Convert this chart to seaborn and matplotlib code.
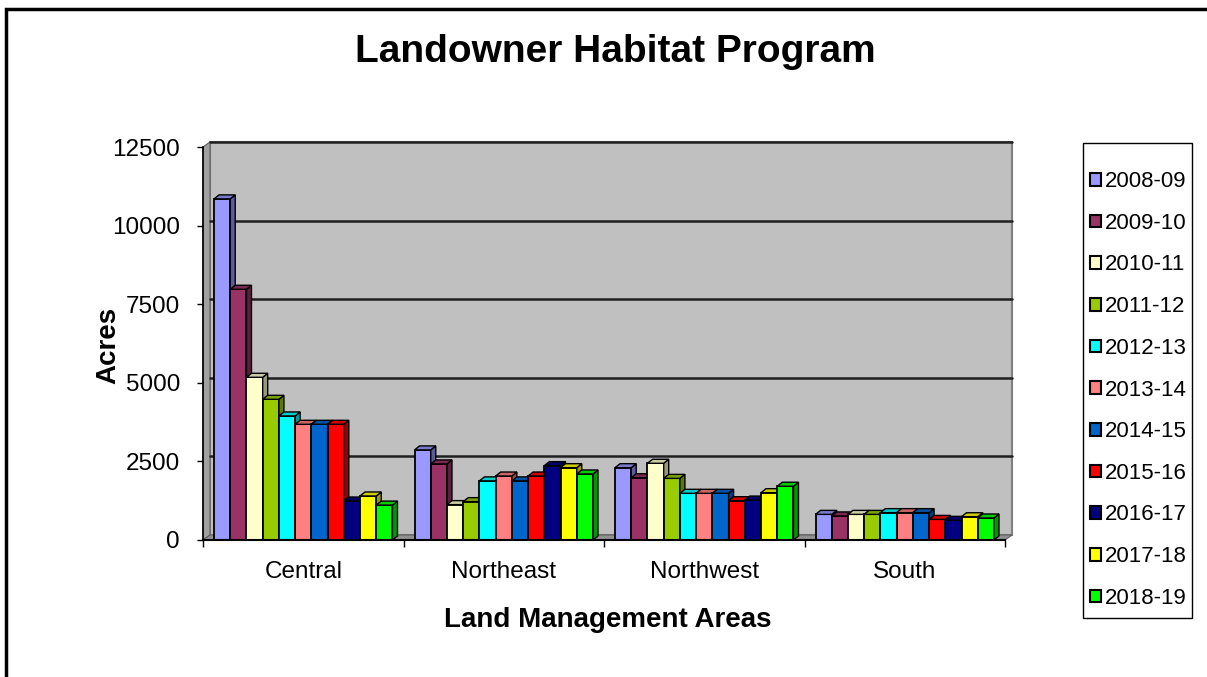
import matplotlib
matplotlib.use('Agg')
import numpy as np
import pandas as pd
import matplotlib.pyplot as plt
import matplotlib.colors as mcolors
from matplotlib.patches import Polygon, Rectangle, Patch
from matplotlib.transforms import ScaledTranslation, IdentityTransform
import seaborn as sns

# Данные
areas = ['Central', 'Northeast', 'Northwest', 'South']
years = ['2008-09', '2009-10', '2010-11', '2011-12', '2012-13', '2013-14',
         '2014-15', '2015-16', '2016-17', '2017-18', '2018-19']
central = [10850, 7975, 5175, 4475, 3945, 3680, 3680, 3680, 1240, 1400, 1110]
northeast = [2865, 2420, 1125, 1220, 1880, 2035, 1880, 2035, 2365, 2300, 2100]
northwest = [2300, 1980, 2440, 1960, 1485, 1485, 1485, 1250, 1270, 1505, 1710]
south = [815, 765, 815, 815, 870, 870, 870, 655, 625, 740, 700]
colors = ['#9999FF', '#993366', '#FFFFCC', '#99CC00', '#00FFFF', '#FF8080',
          '#0066CC', '#FF0000', '#000080', '#FFFF00', '#00FF00']
yticks = [0, 2500, 5000, 7500, 10000, 12500]

rows = []
for area, vals in zip(areas, [central, northeast, northwest, south]):
    for year, v in zip(years, vals):
        rows.append({'area': area, 'year': year, 'acres': v})
df = pd.DataFrame(rows)

sns.set_style('white')
plt.rcParams['font.family'] = ['Liberation Sans', 'DejaVu Sans']
plt.rcParams['text.color'] = 'black'
plt.rcParams['axes.labelcolor'] = 'black'
plt.rcParams['xtick.color'] = 'black'
plt.rcParams['ytick.color'] = 'black'

W, H = 1207, 677
fig = plt.figure(figsize=(W / 100, H / 100), dpi=100)
ax = fig.add_axes([203 / W, (H - 540) / H, 802 / W, 393 / H])
ax.set_facecolor('none')
ax.set_xlim(-0.5, 3.5)
ax.set_ylim(0, 12500)

sns.barplot(data=df, x='area', y='acres', hue='year', palette=colors,
            width=0.89, gap=0, saturation=1, edgecolor='black', linewidth=1.3,
            legend=False, ax=ax)
bars = sorted(list(ax.patches), key=lambda p: p.get_x())
ax.set_xlim(-0.5, 3.5)
ax.set_ylim(0, 12500)

# 3D: задняя стенка, левая стенка, пол
dx, dy = 7, 5
wall_off = ax.transAxes + ScaledTranslation(dx / 100, dy / 100, fig.dpi_scale_trans)
ax.add_patch(Rectangle((0, 0), 1, 1, transform=wall_off, facecolor='#C0C0C0',
                       edgecolor='#808080', lw=1.5, zorder=0, clip_on=False))
fig.canvas.draw()
(x0, y0), (x1, y1) = ax.transAxes.transform([(0, 0), (1, 1)])
ax.add_patch(Polygon([(x0, y0), (x0, y1), (x0 + dx, y1 + dy), (x0 + dx, y0 + dy)],
                     closed=True, transform=IdentityTransform(), facecolor='#A0A0A0',
                     edgecolor='#606060', lw=0.8, zorder=0.5, clip_on=False))
ax.add_patch(Polygon([(x0, y0), (x1, y0), (x1 + dx, y0 + dy), (x0 + dx, y0 + dy)],
                     closed=True, transform=IdentityTransform(), facecolor='#909090',
                     edgecolor='#606060', lw=0.8, zorder=0.5, clip_on=False))

# линии сетки на задней стенке
grid_off = ax.transData + ScaledTranslation(dx / 100, dy / 100, fig.dpi_scale_trans)
for yv in yticks[1:]:
    ax.plot([-0.5, 3.5], [yv, yv], transform=grid_off, color='#202020', lw=1.8,
            zorder=1, clip_on=False)

# объём столбцов
bd, bh = 5, 4
for k, p in enumerate(bars):
    z = 2 + k * 0.01
    p.set_zorder(z)
    bx, by = p.get_x(), p.get_y()
    bw, bhgt = p.get_width(), p.get_height()
    (px0, py0), (px1, py1) = ax.transData.transform([(bx, by), (bx + bw, by + bhgt)])
    fc = np.array(mcolors.to_rgb(p.get_facecolor()))
    side = Polygon([(px1, py0), (px1, py1), (px1 + bd, py1 + bh), (px1 + bd, py0 + bh)],
                   closed=True, transform=IdentityTransform(), facecolor=fc * 0.6,
                   edgecolor='black', lw=1.0, zorder=z + 0.001, clip_on=False)
    top = Polygon([(px0, py1), (px1, py1), (px1 + bd, py1 + bh), (px0 + bd, py1 + bh)],
                  closed=True, transform=IdentityTransform(), facecolor=fc * 0.8,
                  edgecolor='black', lw=1.0, zorder=z + 0.001, clip_on=False)
    ax.add_patch(side)
    ax.add_patch(top)

# оси
ax.set_yticks(yticks)
ax.set_yticklabels([str(v) for v in yticks])
ax.set_xticks(range(len(areas)))
ax.set_xticklabels(areas)
ax.set_xticks(np.arange(-0.5, 3.6, 1), minor=True)
ax.tick_params(axis='y', left=True, length=4.5, width=1, pad=12, labelsize=17.5, color='black')
ax.tick_params(axis='x', which='major', length=0, pad=15, labelsize=17.5)
ax.tick_params(axis='x', which='minor', bottom=True, length=5, width=1, color='black')
for s in ['top', 'right']:
    ax.spines[s].set_visible(False)
ax.spines['left'].set_color('black')
ax.spines['bottom'].set_color('black')
ax.spines['left'].set_linewidth(1.2)
ax.spines['bottom'].set_linewidth(1.5)
ax.spines['left'].set_zorder(3)
ax.spines['bottom'].set_zorder(3)

ax.set_ylabel('Acres', fontsize=20, fontweight='bold')
ax.yaxis.set_label_coords((108 - 203) / 802, (540 - 345) / 393)
ax.yaxis.label.set_va('center')
ax.set_xlabel('Land Management Areas', fontsize=20, fontweight='bold')
ax.xaxis.set_label_coords((608 - 203) / 802, (540 - 620) / 393)
ax.xaxis.label.set_va('center')

fig.text(615 / W, 1 - 52 / H, 'Landowner Habitat Program', fontsize=28,
         fontweight='bold', ha='center', va='center')

# легенда: рамка отдельно, записи внутри рамки
lx0, lx1, ly0, ly1 = 1083, 1192, 143, 618
fig.add_artist(Rectangle((lx0 / W, 1 - ly1 / H), (lx1 - lx0) / W, (ly1 - ly0) / H,
                         transform=fig.transFigure, facecolor='white',
                         edgecolor='black', lw=1.0))
handles = [Patch(facecolor=c, edgecolor='black', linewidth=1.5) for c in colors]
leg = fig.legend(handles, years, loc='center',
                 bbox_to_anchor=((lx0 + lx1) / 2 / W + 1 / W, 1 - 390 / H),
                 frameon=False, fontsize=16,
                 handlelength=0.5, handleheight=0.5, handletextpad=0.15,
                 labelspacing=0.93, borderpad=0.1, borderaxespad=0)
leg.set_zorder(5)

# рамка вокруг диаграммы
fig.add_artist(Rectangle((6 / W, -0.05), 1.1, 1.05 - 9 / H, transform=fig.transFigure,
                         fill=False, edgecolor='black', lw=2.5))

fig.savefig('out.png', dpi=100)
